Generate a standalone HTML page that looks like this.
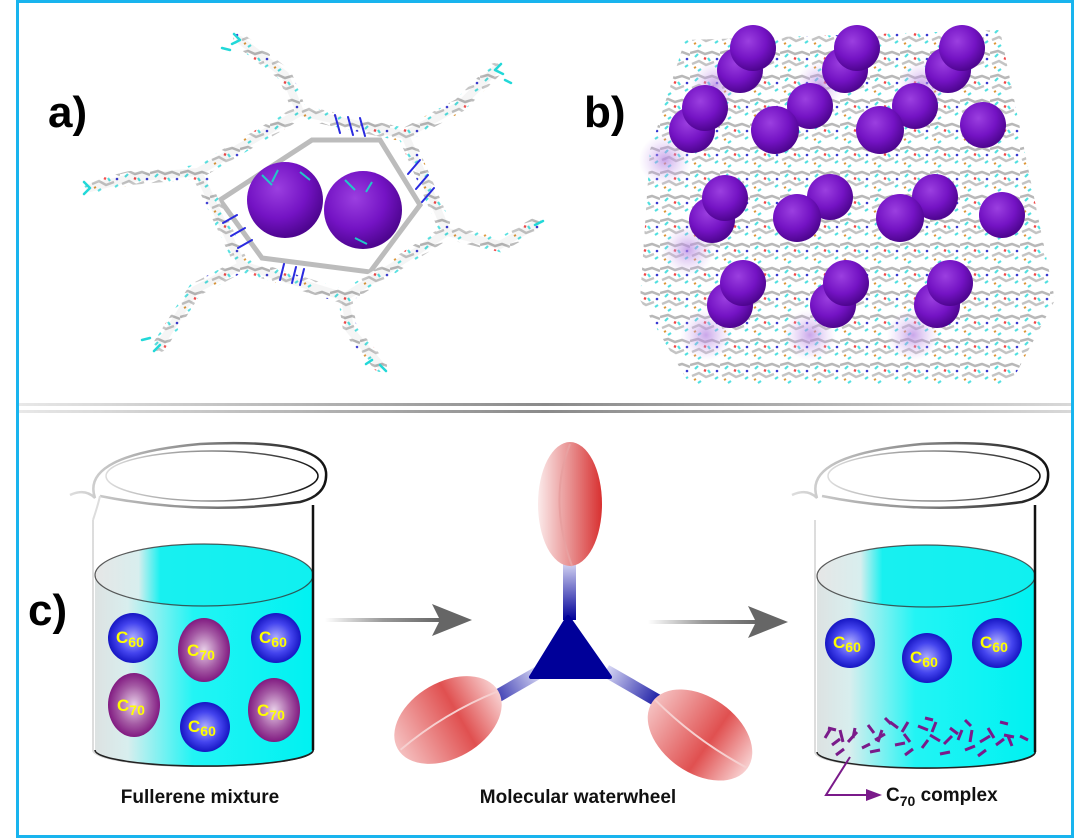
<!DOCTYPE html>
<html><head><meta charset="utf-8">
<style>
html,body{margin:0;padding:0;background:#fff;}
svg{display:block;}
text{font-family:"Liberation Sans",Arial,sans-serif;font-weight:bold;}
</style></head>
<body>
<svg width="1080" height="838" viewBox="0 0 1080 838" xmlns="http://www.w3.org/2000/svg">
<defs>
  <radialGradient id="pur" cx="40%" cy="35%" r="65%">
    <stop offset="0" stop-color="#9b3fe0"/><stop offset="0.6" stop-color="#7413c4"/><stop offset="1" stop-color="#4e0590"/>
  </radialGradient>
  <radialGradient id="shadow" cx="50%" cy="50%" r="50%">
    <stop offset="0" stop-color="#b27fe0" stop-opacity="0.7"/><stop offset="1" stop-color="#d8b8f2" stop-opacity="0"/>
  </radialGradient>
  <radialGradient id="c60" cx="50%" cy="50%" r="55%">
    <stop offset="0" stop-color="#b0b0ff"/><stop offset="0.55" stop-color="#4444ee"/><stop offset="1" stop-color="#0a0ab8"/>
  </radialGradient>
  <radialGradient id="c70" cx="50%" cy="50%" r="55%">
    <stop offset="0" stop-color="#e8d0e8"/><stop offset="0.55" stop-color="#a45aa4"/><stop offset="1" stop-color="#780a78"/>
  </radialGradient>
  <linearGradient id="liq" x1="0" x2="1" y1="0" y2="0">
    <stop offset="0" stop-color="#dde2e2"/><stop offset="0.15" stop-color="#d8eeee"/><stop offset="0.45" stop-color="#22f4f4"/><stop offset="1" stop-color="#00f2f2"/>
  </linearGradient>
  <linearGradient id="liqtop" x1="0" x2="1" y1="0" y2="0">
    <stop offset="0" stop-color="#e6e6e6"/><stop offset="0.2" stop-color="#d8eeee"/><stop offset="0.3" stop-color="#18f0f0"/><stop offset="1" stop-color="#10f0f0"/>
  </linearGradient>
  <linearGradient id="rimL" x1="0" x2="1">
    <stop offset="0" stop-color="#ddd"/><stop offset="0.5" stop-color="#888"/><stop offset="1" stop-color="#111"/>
  </linearGradient>
  <linearGradient id="sep" x1="0" x2="1">
    <stop offset="0" stop-color="#e8e8e8"/><stop offset="0.5" stop-color="#8a8a8a"/><stop offset="1" stop-color="#d8d8d8"/>
  </linearGradient>
  <linearGradient id="arr" x1="0" x2="1">
    <stop offset="0" stop-color="#fff"/><stop offset="0.5" stop-color="#999"/><stop offset="1" stop-color="#666"/>
  </linearGradient>
  <linearGradient id="stemV" x1="0" y1="1" x2="0" y2="0">
    <stop offset="0" stop-color="#000099"/><stop offset="1" stop-color="#d8d8f4"/>
  </linearGradient>
  <linearGradient id="stemH" x1="0" x2="1">
    <stop offset="0" stop-color="#000099"/><stop offset="1" stop-color="#d8d8f4"/>
  </linearGradient>
  <linearGradient id="lobe" x1="0" x2="1">
    <stop offset="0" stop-color="#fbeaea"/><stop offset="0.5" stop-color="#e89090"/><stop offset="1" stop-color="#d83030"/>
  </linearGradient>
  <linearGradient id="lobe2" x1="0" x2="1">
    <stop offset="0" stop-color="#f5c0c0"/><stop offset="0.6" stop-color="#e05050"/><stop offset="1" stop-color="#f8d0d0"/>
  </linearGradient>
  <pattern id="mol" width="30" height="24" patternUnits="userSpaceOnUse">
    <rect width="30" height="24" fill="#fff"/>
    <path d="M0 5 L8 3 L15 6 L22 4 L30 7" stroke="#b0b0b0" stroke-width="2.5" fill="none"/>
    <path d="M2 16 L9 13 L16 17 L24 14" stroke="#bdbdbd" stroke-width="2.5" fill="none"/>
    <path d="M5 9 l3 -3 M18 10 l2 3 M25 19 l3 -2 M11 21 l-3 2" stroke="#3fdcdc" stroke-width="2.2"/>
    <path d="M14 10 l2 1" stroke="#e33" stroke-width="2.4"/>
    <path d="M4 20 l2 -1" stroke="#d88a20" stroke-width="2"/>
    <circle cx="27" cy="11" r="1.3" fill="#22c"/>
  </pattern>
</defs>

<!-- frame -->
<rect x="17.5" y="1.5" width="1055" height="835" fill="none" stroke="#18b4ee" stroke-width="3"/>

<!-- separator -->
<rect x="19" y="403" width="1052" height="3" fill="url(#sep)"/>
<rect x="19" y="410" width="1052" height="3" fill="url(#sep)"/>

<!-- labels -->
<text x="48" y="127" font-size="44" fill="#000">a)</text>
<text x="584" y="127" font-size="44" fill="#000">b)</text>
<text x="28" y="625" font-size="44" fill="#000">c)</text>

<!-- Panel a framework -->
<g fill="none" stroke-linecap="round">
  <g stroke="#bcbcbc" stroke-width="8">
    <path d="M300 112 L405 135 L447 232 L345 297 L242 265 L198 172 Z"/>
    <path d="M300 112 L285 75 L240 40 M405 135 L460 105 L495 70 M447 232 L500 245 L535 225 M345 297 L350 330 L380 365 M242 265 L195 290 L160 345 M198 172 L130 178 L90 188"/>
    <path d="M312 140 L380 140 L420 205 L370 272 L262 258 L220 200 Z" stroke-width="5"/>
  </g>
  <g stroke="url(#mol)" stroke-width="14" opacity="0.85">
    <path d="M300 112 L405 135 L447 232 L345 297 L242 265 L198 172 Z"/>
    <path d="M300 112 L285 75 L240 40 M405 135 L460 105 L495 70 M447 232 L500 245 L535 225 M345 297 L350 330 L380 365 M242 265 L195 290 L160 345 M198 172 L130 178 L90 188"/>
  </g>
  <g stroke="#2a2ae0" stroke-width="2">
    <path d="M335 115 l5 18 M348 117 l5 18 M360 118 l5 18 M420 160 l-12 14 M428 175 l-12 14 M434 188 l-12 14 M237 215 l-14 8 M245 228 l-14 8 M252 240 l-14 8 M280 280 l4 -16 M292 283 l4 -16 M300 285 l4 -16"/>
  </g>
  <g stroke="#22d8d8" stroke-width="2.5">
    <path d="M240 40 l-6 -6 M240 40 l-8 4 M495 70 l6 -6 M495 70 l8 4 M535 225 l8 -4 M380 365 l6 6 M160 345 l-6 6 M90 188 l-6 -6 M90 188 l-6 6 M230 50 l-8 -2 M505 80 l6 3 M150 338 l-8 2 M372 360 l-6 4"/>
  </g>
</g>
<circle cx="285" cy="200" r="38" fill="url(#pur)"/>
<circle cx="363" cy="210" r="39" fill="url(#pur)"/>
<g stroke="#22c8c8" stroke-width="2"><path d="M262 175 l10 10 M278 170 l-6 12 M300 172 l10 8 M345 180 l10 10 M372 182 l-6 10 M355 238 l12 6"/></g>

<!-- Panel b framework -->
<path d="M685 40 L1000 30 L1055 300 L1010 385 L690 385 L640 300 L650 150 Z" fill="url(#mol)" opacity="0.9"/>
<g>
  <g fill="url(#shadow)">
    <circle cx="715" cy="85" r="24"/><circle cx="820" cy="85" r="24"/><circle cx="922" cy="85" r="24"/>
    <circle cx="665" cy="160" r="26"/><circle cx="688" cy="250" r="26"/><circle cx="706" cy="335" r="26"/>
    <circle cx="810" cy="335" r="26"/><circle cx="913" cy="335" r="26"/>
  </g>
  <g fill="url(#pur)">
    <circle cx="740" cy="70" r="23"/><circle cx="753" cy="48" r="23"/>
    <circle cx="845" cy="70" r="23"/><circle cx="857" cy="48" r="23"/>
    <circle cx="948" cy="70" r="23"/><circle cx="962" cy="48" r="23"/>
    <circle cx="692" cy="130" r="23"/><circle cx="705" cy="108" r="23"/>
    <circle cx="810" cy="106" r="23"/><circle cx="775" cy="130" r="24"/>
    <circle cx="915" cy="106" r="23"/><circle cx="880" cy="130" r="24"/>
    <circle cx="983" cy="125" r="23"/>
    <circle cx="712" cy="220" r="23"/><circle cx="725" cy="198" r="23"/>
    <circle cx="830" cy="197" r="23"/><circle cx="797" cy="218" r="24"/>
    <circle cx="935" cy="197" r="23"/><circle cx="900" cy="218" r="24"/>
    <circle cx="1002" cy="215" r="23"/>
    <circle cx="730" cy="305" r="23"/><circle cx="743" cy="283" r="23"/>
    <circle cx="833" cy="305" r="23"/><circle cx="846" cy="283" r="23"/>
    <circle cx="937" cy="305" r="23"/><circle cx="950" cy="283" r="23"/>
  </g>
</g>

<!-- Beaker 1 -->
<g>
  <path d="M93 520 L93 750 A110 16 0 0 0 313 750 L313 510" fill="none" stroke="url(#rimL)" stroke-width="2"/>
  <path d="M95 575 L95 750 A109 16 0 0 0 313 750 L313 575 Z" fill="url(#liq)"/>
  <ellipse cx="204" cy="575" rx="109" ry="31" fill="url(#liqtop)" stroke="#333" stroke-width="1.2" stroke-opacity="0.8"/>
  <path d="M95 750 A109 16 0 0 0 313 750" fill="none" stroke="#222" stroke-width="1.5"/>
  <line x1="313" y1="505" x2="313" y2="750" stroke="#111" stroke-width="2.5"/>
  <path d="M70 495 Q85 488 95 498 Q80 455 200 444 Q322 438 326 472 Q328 495 300 502 Q200 516 100 496" fill="none" stroke="url(#rimL)" stroke-width="2.5"/>
  <path d="M100 496 Q98 505 93 520" fill="none" stroke="#ddd" stroke-width="2"/>
  <ellipse cx="212" cy="476" rx="106" ry="25" fill="none" stroke="url(#rimL)" stroke-width="1.5"/>
  <g font-size="17" fill="#ffff00">
    <circle cx="133" cy="638" r="25" fill="url(#c60)"/><text x="116" y="643">C<tspan font-size="14" dy="4">60</tspan></text>
    <ellipse cx="204" cy="650" rx="26" ry="32" fill="url(#c70)"/><text x="187" y="656">C<tspan font-size="14" dy="4">70</tspan></text>
    <circle cx="276" cy="638" r="25" fill="url(#c60)"/><text x="259" y="643">C<tspan font-size="14" dy="4">60</tspan></text>
    <ellipse cx="134" cy="705" rx="26" ry="32" fill="url(#c70)"/><text x="117" y="711">C<tspan font-size="14" dy="4">70</tspan></text>
    <circle cx="205" cy="727" r="25" fill="url(#c60)"/><text x="188" y="732">C<tspan font-size="14" dy="4">60</tspan></text>
    <ellipse cx="274" cy="710" rx="26" ry="32" fill="url(#c70)"/><text x="257" y="716">C<tspan font-size="14" dy="4">70</tspan></text>
  </g>
  <text x="200" y="803" font-size="19" text-anchor="middle" fill="#111">Fullerene mixture</text>
</g>

<!-- Arrow 1 -->
<rect x="325" y="618" width="115" height="4" fill="url(#arr)"/>
<path d="M432 604 L472 620 L432 636 L440 620 Z" fill="#666"/>

<!-- waterwheel -->
<rect x="563" y="562" width="13" height="58" fill="url(#stemV)"/>
<g transform="rotate(-30 540 672)"><rect x="470" y="665" width="70" height="13" fill="url(#stemH)"/></g>
<g transform="rotate(30 605 672)"><rect x="605" y="665" width="70" height="13" fill="url(#stemH)" transform="rotate(180 640 671)"/></g>
<path d="M568 617 L531 677 L610 677 Z" fill="#000099" stroke="#000099" stroke-width="4" stroke-linejoin="round"/>
<ellipse cx="570" cy="504" rx="32" ry="62" fill="url(#lobe)"/>
<path d="M570 444 Q548 500 572 566" fill="none" stroke="#e8a0a0" stroke-width="2"/>
<g transform="rotate(-30 448 720)">
  <ellipse cx="448" cy="720" rx="58" ry="38" fill="url(#lobe2)"/>
  <path d="M392 722 Q448 712 505 720" fill="none" stroke="#f6d0d0" stroke-width="2"/>
</g>
<g transform="rotate(35 700 735)">
  <ellipse cx="700" cy="735" rx="58" ry="38" fill="url(#lobe2)"/>
  <path d="M643 732 Q700 742 757 735" fill="none" stroke="#f6d0d0" stroke-width="2"/>
</g>
<text x="578" y="803" font-size="19" text-anchor="middle" fill="#111">Molecular waterwheel</text>

<!-- Arrow 2 -->
<rect x="648" y="620" width="110" height="4" fill="url(#arr)"/>
<path d="M748 606 L788 622 L748 638 L756 622 Z" fill="#666"/>

<!-- Beaker 2 -->
<g>
  <path d="M815 520 L815 752 A110 16 0 0 0 1035 752 L1035 510" fill="none" stroke="url(#rimL)" stroke-width="2"/>
  <path d="M817 576 L817 752 A109 16 0 0 0 1035 752 L1035 576 Z" fill="url(#liq)"/>
  <ellipse cx="926" cy="576" rx="109" ry="31" fill="url(#liqtop)" stroke="#333" stroke-width="1.2" stroke-opacity="0.8"/>
  <path d="M817 752 A109 16 0 0 0 1035 752" fill="none" stroke="#222" stroke-width="1.5"/>
  <line x1="1035" y1="505" x2="1035" y2="752" stroke="#111" stroke-width="2.5"/>
  <path d="M792 495 Q807 488 817 498 Q802 455 922 444 Q1044 438 1048 472 Q1050 495 1022 502 Q922 516 822 496" fill="none" stroke="url(#rimL)" stroke-width="2.5"/>
  <ellipse cx="934" cy="476" rx="106" ry="25" fill="none" stroke="url(#rimL)" stroke-width="1.5"/>
  <g font-size="17" fill="#ffff00">
    <circle cx="850" cy="643" r="25" fill="url(#c60)"/><text x="833" y="648">C<tspan font-size="14" dy="4">60</tspan></text>
    <circle cx="927" cy="658" r="25" fill="url(#c60)"/><text x="910" y="663">C<tspan font-size="14" dy="4">60</tspan></text>
    <circle cx="997" cy="643" r="25" fill="url(#c60)"/><text x="980" y="648">C<tspan font-size="14" dy="4">60</tspan></text>
  </g>
  <g stroke="#7a1a8a" stroke-width="3" fill="none">
    <path d="M825 738 l6 -10 M832 745 l8 -6 M840 730 l3 12 M848 742 l9 -10 M855 728 l-2 10 M862 748 l8 -4 M868 725 l6 8 M875 740 l10 -6 M882 730 l-4 12 M890 722 l8 6 M895 745 l10 -2 M902 732 l6 -10 M910 742 l-6 -8 M918 726 l10 4 M922 748 l6 -8 M930 735 l10 6 M936 722 l-4 10 M944 744 l8 -8 M950 728 l8 6 M958 740 l4 -10 M965 750 l10 -4 M972 730 l-2 12 M980 742 l10 -6 M988 728 l6 10 M996 745 l8 -6 M1004 735 l10 2 M1012 746 l-4 -10 M1020 736 l8 4 M836 755 l8 -6 M870 752 l10 -2 M905 755 l8 -6 M940 754 l10 -2 M978 756 l8 -6 M828 728 l8 2 M885 718 l6 6 M925 718 l8 2 M965 720 l6 6 M1000 722 l8 2"/>
  </g>
  <path d="M850 757 L826 795 L870 795" fill="none" stroke="#7a1a8a" stroke-width="2"/>
  <path d="M866 789 L882 795 L866 801 Z" fill="#7a1a8a"/>
  <text x="886" y="801" font-size="19" fill="#111">C<tspan font-size="14" dy="5">70</tspan><tspan dy="-5"> complex</tspan></text>
</g>
</svg>
</body></html>
